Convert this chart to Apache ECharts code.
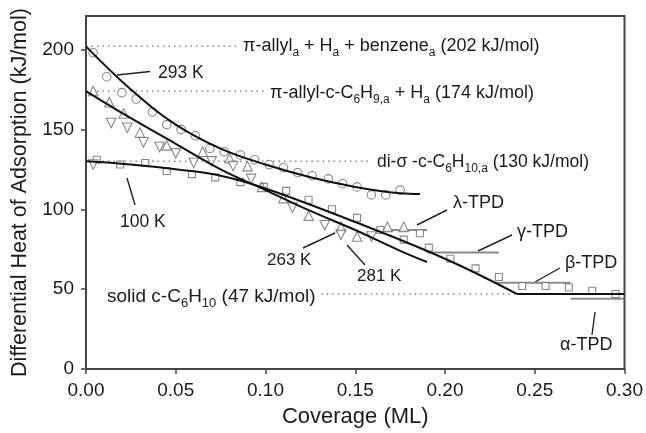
<!DOCTYPE html>
<html>
<head>
<meta charset="utf-8">
<script src="https://cdn.jsdelivr.net/npm/echarts@6/dist/echarts.min.js"></script>
<style>
html,body{margin:0;padding:0;background:#fff;}
#main{width:646px;height:433px;}
</style>
</head>
<body>
<div id="main"></div>
<script>
// 数据
var xTicks = [0, 0.05, 0.10, 0.15, 0.20, 0.25, 0.30];
var yTicks = [0, 50, 100, 150, 200];

// 293 K 圆点
var circles293 = [[0.004,198],[0.0115,183],[0.020,173],[0.028,169],[0.037,161],[0.045,153],[0.053,150],[0.061,146],[0.069,138],[0.077,136],[0.086,134],[0.094,131],[0.102,128],[0.110,126],[0.118,123],[0.126,121],[0.135,119],[0.143,116],[0.151,114],[0.159,109],[0.167,109],[0.175,112]];
// 100 K 方块
var squares100 = [[0.006,131],[0.019,128],[0.033,129],[0.045,124],[0.059,122],[0.072,120],[0.086,117],[0.099,114],[0.1115,111.5],[0.124,106],[0.137,100],[0.151,94.6],[0.164,87],[0.177,81],[0.186,85],[0.191,76],[0.203,69],[0.217,63],[0.230,57.6],[0.243,52],[0.256,52],[0.269,51],[0.282,49],[0.295,47]];
// 263 K 上三角
var triUp263 = [[0.004,174],[0.013,167],[0.021,160],[0.030,148],[0.045,140],[0.065,136],[0.080,132],[0.090,127],[0.098,114],[0.110,107],[0.124,96],[0.142,89],[0.151,83],[0.168,89],[0.177,89]];
// 281 K 下三角
var triDown281 = [[0.004,128],[0.014,154],[0.023,151],[0.032,142],[0.041,139],[0.050,135],[0.060,129],[0.070,130],[0.082,127],[0.092,119],[0.115,101],[0.133,90],[0.142,84],[0.159,83]];

// 拟合曲线
var fit293 = [[0,202],[0.025,175],[0.05,153],[0.075,138],[0.1,128],[0.125,120],[0.15,114],[0.175,110],[0.186,109.5]];
var fitHigh = [[0,174],[0.025,157],[0.05,141],[0.075,125],[0.1,112],[0.125,99],[0.15,87],[0.175,74],[0.19,67]];
var fit100 = [[0,130],[0.025,128],[0.05,125],[0.075,121],[0.1,113],[0.15,92],[0.2,69],[0.24,47]];
var fitSolid = [[0.24,47],[0.30,47]];

// 参考能量 (kJ/mol) 及虚线范围
var refValues = [202, 174, 130, 47];
var refFrom = [0, 0, 0, 0.131];
var refTo = [0.084, 0.099, 0.158, 0.24];

// TPD 水平线
var tpdNames = ['λ-TPD', 'γ-TPD', 'β-TPD', 'α-TPD'];
var tpdValues = [87, 73, 54, 44];
var tpdFrom = [0.165, 0.19, 0.228, 0.27];
var tpdTo = [0.19, 0.23, 0.27, 0.30];

var myChart = echarts.init(document.getElementById('main'));

var font = 'Liberation Sans, Arial, Helvetica, sans-serif';
var seriesArr = [];

for (var i = 0; i < refValues.length; i++) {
	seriesArr.push({
		type: 'line',
		data: [[refFrom[i], refValues[i]], [refTo[i], refValues[i]]],
		symbol: 'none',
		silent: true,
		lineStyle: { color: '#888', width: 1.5, type: [1.5, 4] }
	});
}
for (var j = 0; j < tpdValues.length; j++) {
	seriesArr.push({
		type: 'line',
		name: tpdNames[j],
		data: [[tpdFrom[j], tpdValues[j]], [tpdTo[j], tpdValues[j]]],
		symbol: 'none',
		silent: true,
		lineStyle: { color: '#8a8a8a', width: 2 }
	});
}

function markerSeries(data, symbol, size, rotate) {
	return {
		type: 'scatter',
		data: data,
		symbol: symbol,
		symbolSize: size,
		symbolRotate: rotate || 0,
		itemStyle: { color: '#fff', borderColor: '#6a6a6a', borderWidth: 1.1 },
		z: 3
	};
}
seriesArr.push(markerSeries(circles293, 'circle', 8.5));
seriesArr.push(markerSeries(squares100, 'rect', 7));
seriesArr.push(markerSeries(triUp263, 'triangle', 9.5));
seriesArr.push(markerSeries(triDown281, 'triangle', 9.5, 180));

function fitSeries(data, smooth) {
	return {
		type: 'line',
		data: data,
		symbol: 'none',
		smooth: smooth,
		lineStyle: { color: '#111', width: 2 },
		z: 4
	};
}
seriesArr.push(fitSeries(fit293, 0.4));
seriesArr.push(fitSeries(fitHigh, 0.4));
seriesArr.push(fitSeries(fit100, 0.4));
seriesArr.push(fitSeries(fitSolid, false));

// 注释文字
function label(x, y, text, size) {
	size = size || 18;
	return {
		type: 'text', left: x, top: y - 13, silent: true,
		style: {
			text: text, fontSize: size, fontFamily: font, fill: '#1a1a1a', lineHeight: 26,
			rich: { s: { fontSize: Math.round(size * 0.68), lineHeight: 12, verticalAlign: 'bottom', fontFamily: font, fill: '#1a1a1a' } }
		}
	};
}
function leader(x1, y1, x2, y2) {
	return {
		type: 'line', silent: true,
		shape: { x1: x1, y1: y1, x2: x2, y2: y2 },
		style: { stroke: '#222', lineWidth: 1.4 }
	};
}

var graphicArr = [
	label(243, 46, 'π-allyl{s|a} + H{s|a} + benzene{s|a} (202 kJ/mol)'),
	label(270, 93, 'π-allyl-c-C{s|6}H{s|9,a} + H{s|a} (174 kJ/mol)'),
	label(377, 162, 'di-σ -c-C{s|6}H{s|10,a} (130 kJ/mol)', 17.5),
	label(107, 297, 'solid c-C{s|6}H{s|10} (47 kJ/mol)', 19),
	label(158, 73, '293 K', 17.5), leader(117, 75, 150, 71.5),
	label(120, 222, '100 K', 17.5), leader(127, 178, 135, 205),
	label(267, 260, '263 K', 17), leader(303, 248, 335, 233),
	label(357, 276, '281 K', 17), leader(347, 245, 365, 265),
	label(453, 203, tpdNames[0]), leader(417, 225, 447, 210),
	label(517, 232, tpdNames[1]), leader(478, 251, 512, 235),
	label(565, 263, tpdNames[2]), leader(535, 282, 560, 268),
	label(560, 345, tpdNames[3]), leader(595, 312, 592, 335)
];

var option = {
	backgroundColor: '#ffffff',
	animation: false,
	grid: {
		left: 86, right: 20, top: 16, bottom: 59,
		show: true, borderColor: '#444', borderWidth: 2, backgroundColor: 'transparent'
	},
	xAxis: {
		type: 'value', min: 0, max: 0.3, interval: 0.05,
		name: 'Coverage (ML)', nameLocation: 'middle', nameGap: 37,
		nameTextStyle: { fontSize: 22, fontFamily: font, color: '#1a1a1a' },
		axisLine: { show: true, lineStyle: { color: '#444', width: 2 } },
		axisTick: { show: true, length: 5, lineStyle: { color: '#444', width: 1.5 } },
		axisLabel: {
			fontSize: 19, fontFamily: font, color: '#1a1a1a', margin: 12,
			formatter: function(v) { return v.toFixed(2); }
		},
		splitLine: { show: false }
	},
	yAxis: {
		type: 'value', min: 0, max: 221, interval: 50,
		name: 'Differential Heat of Adsorption (kJ/mol)', nameLocation: 'middle', nameGap: 54,
		nameTextStyle: { fontSize: 21.5, fontFamily: font, color: '#1a1a1a' },
		axisLine: { show: true, lineStyle: { color: '#444', width: 2 } },
		axisTick: { show: true, length: 5, lineStyle: { color: '#444', width: 1.5 } },
		axisLabel: {
			fontSize: 19, fontFamily: font, color: '#1a1a1a', margin: 12,
			showMaxLabel: false,
			formatter: function(v) { return yTicks.indexOf(v) >= 0 ? String(v) : ''; }
		},
		splitLine: { show: false }
	},
	series: seriesArr,
	graphic: graphicArr
};
myChart.setOption(option);
</script>
</body>
</html>
